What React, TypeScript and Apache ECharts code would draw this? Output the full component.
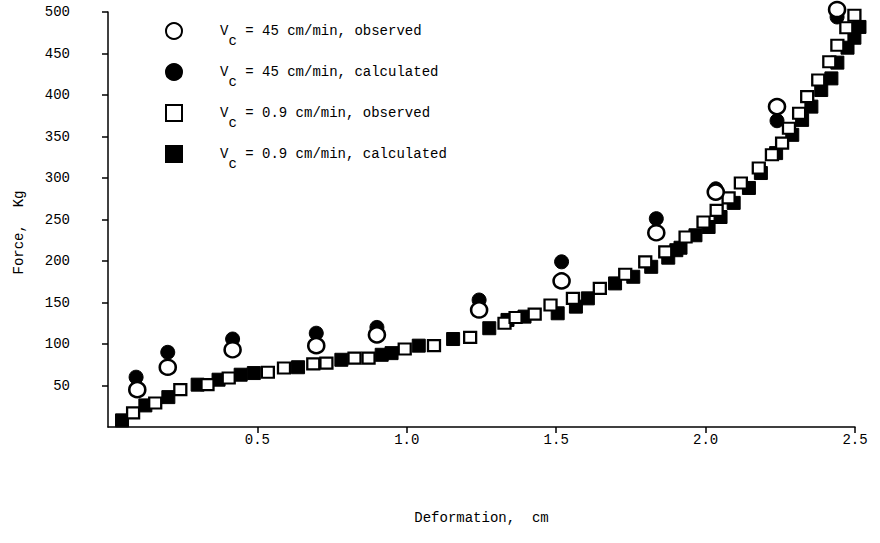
import React, { useEffect, useRef } from "react";
import * as echarts from "echarts";

// V_c = 45 cm/min, observed (open circles)
const obs45: number[][] = [
  [0.098, 45], [0.2, 72], [0.417, 93], [0.697, 98], [0.9, 111], [1.242, 141],
  [1.518, 176], [1.835, 234], [2.034, 283], [2.239, 386], [2.44, 503],
];
// V_c = 45 cm/min, calculated (filled circles)
const calc45: number[][] = [
  [0.094, 60], [0.2, 90], [0.417, 106], [0.697, 113], [0.9, 120], [1.242, 153],
  [1.518, 199], [1.835, 251], [2.034, 287], [2.239, 369], [2.44, 494],
];
// V_c = 0.9 cm/min, observed (open squares)
const obs09: number[][] = [
  [0.084, 17], [0.158, 29], [0.242, 45], [0.333, 51], [0.404, 59], [0.535, 66],
  [0.589, 71], [0.687, 76], [0.731, 77], [0.825, 83], [0.872, 83], [0.993, 94],
  [1.091, 98], [1.212, 108], [1.327, 125], [1.364, 132], [1.428, 136], [1.481, 147],
  [1.556, 155], [1.646, 167], [1.731, 184], [1.798, 199], [1.865, 211], [1.933, 229],
  [1.993, 247], [2.037, 261], [2.077, 276], [2.118, 294], [2.178, 312], [2.222, 328],
  [2.256, 342], [2.279, 360], [2.313, 378], [2.34, 398], [2.377, 418], [2.414, 440],
  [2.441, 460], [2.471, 481], [2.498, 496],
];
// V_c = 0.9 cm/min, calculated (filled squares)
const calc09: number[][] = [
  [0.047, 8], [0.125, 26], [0.202, 36], [0.3, 51], [0.37, 57], [0.444, 63],
  [0.488, 65], [0.636, 72], [0.781, 81], [0.916, 87], [0.949, 89], [1.04, 98],
  [1.155, 106], [1.276, 119], [1.337, 129], [1.394, 133], [1.505, 137], [1.566, 145],
  [1.606, 155], [1.697, 173], [1.758, 181], [1.818, 193], [1.875, 204], [1.902, 213],
  [1.916, 216], [1.966, 231], [2.01, 241], [2.05, 253], [2.094, 270], [2.145, 288],
  [2.185, 306], [2.236, 330], [2.29, 352], [2.323, 370], [2.354, 386], [2.387, 406],
  [2.421, 420], [2.441, 439], [2.475, 457], [2.498, 469], [2.515, 482],
];

const xTickValues = [0.5, 1.0, 1.5, 2.0, 2.5];
const yTickValues = [50, 100, 150, 200, 250, 300, 350, 400, 450, 500];

const seriesNames = [
  "Vc = 45 cm/min, observed",
  "Vc = 45 cm/min, calculated",
  "Vc = 0.9 cm/min, observed",
  "Vc = 0.9 cm/min, calculated",
];
const legendRest: Record<string, string> = {
  [seriesNames[0]]: " = 45 cm/min, observed",
  [seriesNames[1]]: " = 45 cm/min, calculated",
  [seriesNames[2]]: " = 0.9 cm/min, observed",
  [seriesNames[3]]: " = 0.9 cm/min, calculated",
};

const xAxisTitle = "Deformation,  cm";
const yAxisTitle = "Force,  Kg";

const FONT = "Liberation Mono";
const INK = "#000";

export default function App() {
  const ref = useRef<HTMLDivElement>(null);
  useEffect(() => {
    if (!ref.current) return;
    const chart = echarts.init(ref.current, null, { renderer: "svg" });
    chart.setOption({
      animation: false,
      backgroundColor: "#fff",
      textStyle: { fontFamily: FONT, color: INK },
      grid: { left: 108, right: 25, top: 12, bottom: 116 },
      legend: {
        orient: "vertical",
        left: 165,
        top: 22,
        padding: 0,
        itemGap: 15,
        itemWidth: 16,
        itemHeight: 16,
        data: seriesNames,
        formatter: (name: string) => `{s| }{a|V}{b|c}{a|${legendRest[name]}}`,
        textStyle: {
          fontFamily: FONT,
          color: INK,
          rich: {
            s: { width: 33 },
            a: { fontFamily: FONT, fontSize: 14, color: INK, lineHeight: 34, verticalAlign: "middle" },
            b: { fontFamily: FONT, fontSize: 14, color: INK, lineHeight: 34, verticalAlign: "bottom" },
          },
        },
      },
      xAxis: {
        type: "value",
        min: 0,
        max: 2.5,
        interval: 0.5,
        name: xAxisTitle,
        nameLocation: "middle",
        nameGap: 84,
        nameTextStyle: { fontFamily: FONT, fontSize: 14, color: INK },
        axisLine: { show: true, onZero: false, lineStyle: { color: INK, width: 1.5 } },
        axisTick: {
          show: true,
          inside: false,
          length: 6,
          customValues: xTickValues,
          lineStyle: { color: INK, width: 1.5 },
        },
        axisLabel: {
          margin: 6,
          fontFamily: FONT,
          fontSize: 14,
          color: INK,
          customValues: xTickValues,
          formatter: (v: number) => (v === 0 ? "" : v.toFixed(1)),
        },
        splitLine: { show: false },
      },
      yAxis: {
        type: "value",
        min: 0,
        max: 500,
        interval: 50,
        name: yAxisTitle,
        nameLocation: "middle",
        nameGap: 82,
        nameTextStyle: { fontFamily: FONT, fontSize: 14, color: INK, padding: [0, 26, 0, 0] },
        axisLine: { show: true, onZero: false, lineStyle: { color: INK, width: 1.5 } },
        axisTick: {
          show: true,
          inside: false,
          length: 6,
          customValues: yTickValues,
          lineStyle: { color: INK, width: 1.5 },
        },
        axisLabel: {
          margin: 38,
          fontFamily: FONT,
          fontSize: 14,
          color: INK,
          customValues: yTickValues,
          formatter: (v: number) => (v === 0 ? "" : String(v)),
        },
        splitLine: { show: false },
      },
      series: [
        {
          name: seriesNames[3],
          type: "scatter",
          data: calc09,
          clip: false,
          symbol: "rect",
          symbolSize: [13, 13],
          itemStyle: { color: "#000", borderColor: "#000", borderWidth: 1, opacity: 1 },
          z: 2,
        },
        {
          name: seriesNames[2],
          type: "scatter",
          data: obs09,
          clip: false,
          symbol: "rect",
          symbolSize: [12, 11],
          itemStyle: { color: "#fff", borderColor: "#000", borderWidth: 2.2, opacity: 1 },
          z: 3,
        },
        {
          name: seriesNames[1],
          type: "scatter",
          data: calc45,
          clip: false,
          symbol: "circle",
          symbolSize: [14, 14],
          itemStyle: { color: "#000", borderColor: "#000", borderWidth: 1, opacity: 1 },
          z: 4,
        },
        {
          name: seriesNames[0],
          type: "scatter",
          data: obs45,
          clip: false,
          symbol: "circle",
          symbolSize: [16, 15],
          itemStyle: { color: "#fff", borderColor: "#000", borderWidth: 2.5, opacity: 1 },
          z: 5,
        },
      ],
    });
    return () => chart.dispose();
  }, []);
  return (
    <div
      ref={ref}
      style={{ position: "absolute", left: 0, top: 0, width: 880, height: 543 }}
    />
  );
}
